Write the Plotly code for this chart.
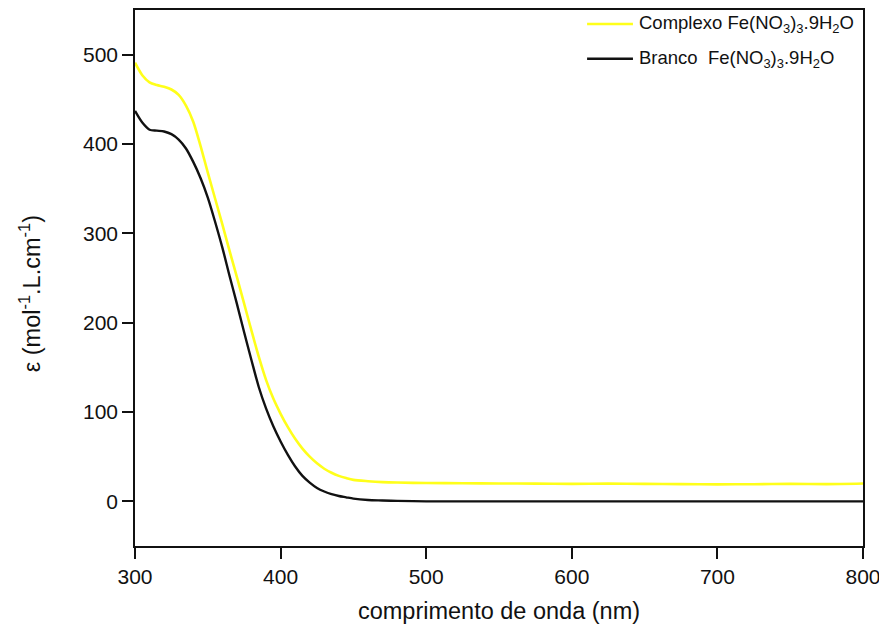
import plotly.graph_objects as go

# Wavelength (nm) and molar absorptivity values
wl_complexo = [300, 305, 310, 315, 320, 325, 330, 335, 340, 345, 350, 355, 360, 365, 370,
               375, 380, 385, 390, 395, 400, 405, 410, 415, 420, 425, 430, 435, 440, 445,
               450, 460, 470, 480, 500, 525, 550, 575, 600, 625, 650, 675, 700, 725, 750,
               775, 800]
eps_complexo = [491, 477, 469, 466, 464, 461, 455, 443, 425, 398, 368, 339, 310, 280, 251,
                221, 191, 162, 136, 115, 98, 83, 70, 59, 50, 42.5, 36.5, 32, 28.5, 26,
                24, 22.5, 21.5, 21, 20.5, 20.2, 20, 19.8, 19.5, 19.8, 19.5, 19.3, 19, 19.2, 19.5,
                19.3, 20]

wl_branco = [300, 305, 310, 315, 320, 325, 330, 335, 340, 345, 350, 355, 360, 365, 370,
             375, 380, 385, 390, 395, 400, 405, 410, 415, 420, 425, 430, 435, 440, 445,
             450, 460, 470, 480, 500, 525, 550, 575, 600, 625, 650, 675, 700, 725, 750,
             775, 800]
eps_branco = [437, 424, 416, 415, 414, 411, 405, 395, 380, 362, 340, 313, 284, 252, 221,
              189, 158, 128, 104, 84, 67, 52, 39, 28.5, 21, 15, 11, 8, 6, 4.5,
              3, 1.5, 1, 0.5, 0, 0, 0, 0, 0, 0, 0, 0, 0, 0, 0,
              0, 0]

x_ticks = [300, 400, 500, 600, 700, 800]
y_ticks = [0, 100, 200, 300, 400, 500]

label_complexo = "Complexo Fe(NO<sub>3</sub>)<sub>3</sub>.9H<sub>2</sub>O"
label_branco = "Branco  Fe(NO<sub>3</sub>)<sub>3</sub>.9H<sub>2</sub>O"
y_title = "ε (mol<sup>-1</sup>.L.cm<sup>-1</sup>)"
x_title = "comprimento de onda (nm)"

FONT = "Liberation Sans, Arial, sans-serif"

fig = go.Figure()
fig.add_trace(go.Scatter(x=wl_complexo, y=eps_complexo, mode="lines",
                         line=dict(color="#FFFF1A", width=2.6, shape="spline", smoothing=0.8),
                         name=label_complexo, showlegend=False))
fig.add_trace(go.Scatter(x=wl_branco, y=eps_branco, mode="lines",
                         line=dict(color="#111111", width=2.4, shape="spline", smoothing=0.8),
                         name=label_branco, showlegend=False))

# Manual legend
legend_items = [(label_complexo, "#FFFF1A", 0.974), (label_branco, "#111111", 0.909)]
for text, color, yy in legend_items:
    fig.add_shape(type="line", xref="paper", yref="paper",
                  x0=0.621, x1=0.684, y0=yy, y1=yy,
                  line=dict(color=color, width=2.4))
    fig.add_annotation(xref="paper", yref="paper", x=0.689, y=yy, text=text,
                       showarrow=False, xanchor="left", yanchor="middle",
                       font=dict(family=FONT, size=18.5, color="#111111"))

# Y axis title as rotated annotation (placed like the reference)
fig.add_annotation(xref="paper", yref="paper", x=-0.144, y=0.47, text=y_title,
                   textangle=-90, showarrow=False, xanchor="center", yanchor="middle",
                   font=dict(family=FONT, size=23.5, color="#111111"))

fig.update_layout(
    width=887, height=633,
    margin=dict(l=127, r=32, t=0, b=95),
    paper_bgcolor="white", plot_bgcolor="white",
    font=dict(family=FONT, color="#111111"),
    xaxis=dict(range=[300, 800], tickvals=x_ticks, ticks="outside", ticklen=11,
               tickwidth=1.5, tickcolor="#111111", showline=True, linecolor="#111111",
               linewidth=1.5, mirror=True, showgrid=False, zeroline=False,
               tickfont=dict(size=21, family=FONT),
               title=dict(text=x_title, font=dict(size=23.5, family=FONT),
                          standoff=16)),
    yaxis=dict(range=[-50, 550], tickvals=y_ticks, ticks="outside", ticklen=11,
               tickwidth=1.5, tickcolor="#111111", showline=True, linecolor="#111111",
               linewidth=1.5, mirror=True, showgrid=False, zeroline=False,
               tickfont=dict(size=21, family=FONT)),
)

fig.write_html("out.html")
